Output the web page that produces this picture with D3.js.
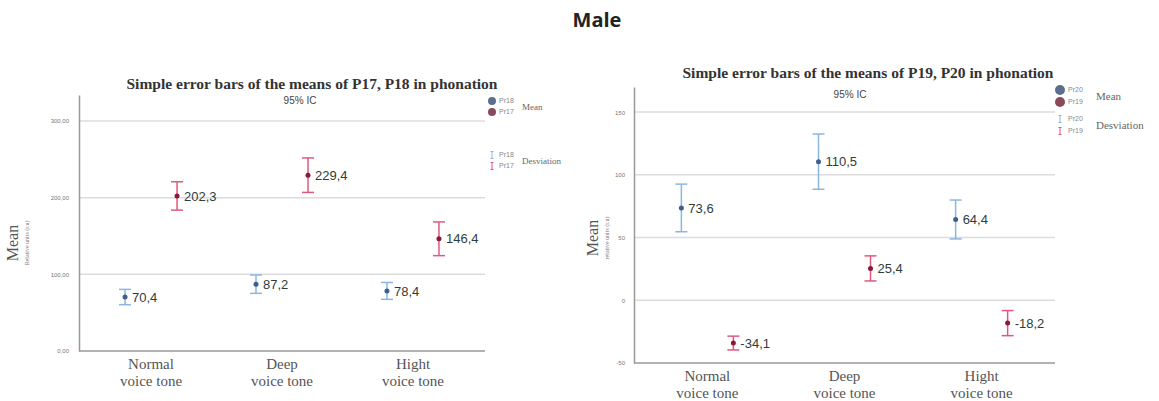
<!DOCTYPE html>
<html>
<head>
<meta charset="utf-8">
<script src="https://cdn.jsdelivr.net/npm/d3@7"></script>
<style>
  body { margin: 0; background: #fff; }
  svg { display: block; }
</style>
</head>
<body>
<div id="chart"></div>
<script>
// ---- data ----
const categories = ["Normal", "Deep", "Hight"];
const categorySub = "voice tone";

// left panel (P17, P18)
const p18Means = [70.4, 87.2, 78.4];
const p18Errors = [10, 12, 11];
const p17Means = [202.3, 229.4, 146.4];
const p17Errors = [18.5, 22.5, 22];
const leftTicks = [0, 100, 200, 300];

// right panel (P19, P20)
const p20Means = [73.6, 110.5, 64.4];
const p20Errors = [19, 22, 15.5];
const p19Means = [-34.1, 25.4, -18.2];
const p19Errors = [5.5, 10, 10];
const rightTicks = [-50, 0, 50, 100, 150];

const blueBar = "#8ab6e3";
const blueDot = "#3d5f8f";
const redBar = "#e2587c";
const redDot = "#8c1739";
const legendBlue = "#5b6f8c";
const legendRed = "#8a4a5c";

const width = 1159;
const height = 401;

const svg = d3.select("#chart")
  .append("svg")
    .attr("width", width)
    .attr("height", height);

svg.append("text")
  .text("Male")
  .attr("x", 597)
  .attr("y", 27)
  .attr("text-anchor", "middle")
  .attr("font-family", "'Open Sans', sans-serif")
  .attr("font-weight", "bold")
  .attr("font-size", 20)
  .attr("fill", "#222");

const comma = (v, digits) => v.toFixed(digits).replace(".", ",");

const drawPanel = (p) => {
  const xScale = d3.scalePoint()
    .domain(categories)
    .range([p.x0, p.x1])
    .padding(p.pad);
  const yScale = d3.scaleLinear()
    .domain(p.domain)
    .range([p.yBottom, p.yTop]);
  const offset = d3.scalePoint()
    .domain([0, 1])
    .range([-26, 26]);

  // gridlines
  svg.append("g")
    .selectAll("line")
    .data(p.ticks.filter(t => t !== p.domain[0]))
    .join("line")
      .attr("x1", p.x0)
      .attr("x2", p.x1)
      .attr("y1", d => yScale(d))
      .attr("y2", d => yScale(d))
      .attr("stroke", "#dcdcdc")
      .attr("stroke-width", 1.5);

  // left axis
  const leftAxis = d3.axisLeft(yScale)
    .tickValues(p.ticks)
    .tickSize(0)
    .tickPadding(p.tickPad)
    .tickFormat(p.tickFormat);
  const gy = svg.append("g")
    .attr("transform", `translate(${p.x0}, 0)`)
    .call(leftAxis);
  gy.select(".domain").attr("stroke", "#999").attr("stroke-width", 1.5);
  gy.selectAll("text")
    .attr("font-family", "'Liberation Sans', sans-serif")
    .attr("font-size", 6)
    .attr("fill", "#777");

  // bottom axis line
  svg.append("line")
    .attr("x1", p.x0)
    .attr("x2", p.x1)
    .attr("y1", p.yBottom)
    .attr("y2", p.yBottom)
    .attr("stroke", "#999")
    .attr("stroke-width", 1.5);

  // category labels
  const catG = svg.append("g")
    .selectAll("text")
    .data(categories)
    .join("text")
      .attr("x", d => xScale(d))
      .attr("y", p.catY)
      .attr("text-anchor", "middle")
      .attr("font-family", "'Liberation Serif', serif")
      .attr("font-size", 15)
      .attr("fill", "#555");
  catG.append("tspan").text(d => d);
  catG.append("tspan")
    .attr("x", d => xScale(d))
    .attr("dy", 17)
    .text(categorySub);

  // titles
  svg.append("text")
    .text(p.title)
    .attr("x", p.titleX)
    .attr("y", p.titleY)
    .attr("text-anchor", "middle")
    .attr("font-family", "'Liberation Serif', serif")
    .attr("font-weight", "bold")
    .attr("font-size", 15.5)
    .attr("fill", "#333");
  svg.append("text")
    .text("95% IC")
    .attr("x", p.icX)
    .attr("y", p.icY)
    .attr("text-anchor", "middle")
    .attr("font-family", "'Liberation Sans', sans-serif")
    .attr("font-size", 10)
    .attr("fill", "#444");

  // y label
  svg.append("text")
    .text("Mean")
    .attr("transform", `translate(${p.yLabelX}, ${p.yLabelY}) rotate(-90)`)
    .attr("text-anchor", "middle")
    .attr("font-family", "'Liberation Serif', serif")
    .attr("font-size", 16)
    .attr("fill", "#555");
  svg.append("text")
    .text(p.unitLabel)
    .attr("transform", `translate(${p.yLabelX + 11}, ${p.yLabelY}) rotate(-90)`)
    .attr("text-anchor", "middle")
    .attr("font-family", "'Liberation Serif', serif")
    .attr("font-size", 6)
    .attr("fill", "#777");

  // error bars and means
  p.series.forEach((s, si) => {
    const rows = categories.map((c, i) => ({cat: c, mean: s.means[i], err: s.errors[i]}));
    const g = svg.append("g")
      .selectAll("g")
      .data(rows)
      .join("g")
        .attr("transform", d => `translate(${xScale(d.cat) + offset(si)}, 0)`);
    g.append("line")
      .attr("y1", d => yScale(d.mean + d.err))
      .attr("y2", d => yScale(d.mean - d.err))
      .attr("stroke", s.bar)
      .attr("stroke-width", 1.5);
    [1, -1].forEach(sign => {
      g.append("line")
        .attr("x1", -6)
        .attr("x2", 6)
        .attr("y1", d => yScale(d.mean + sign * d.err))
        .attr("y2", d => yScale(d.mean + sign * d.err))
        .attr("stroke", s.bar)
        .attr("stroke-width", 1.5);
    });
    g.append("circle")
      .attr("cy", d => yScale(d.mean))
      .attr("r", 2.5)
      .attr("fill", s.dot);
    g.append("text")
      .text(d => comma(d.mean, 1))
      .attr("x", 7)
      .attr("y", d => yScale(d.mean))
      .attr("dy", "0.36em")
      .attr("font-family", "'Liberation Sans', sans-serif")
      .attr("font-size", 13)
      .attr("fill", "#2f3d3a");
  });

  // legend
  const lg = svg.append("g").attr("transform", `translate(${p.legX}, 0)`);
  p.series.forEach((s, i) => {
    lg.append("circle")
      .attr("cx", 0)
      .attr("cy", p.legMeanY + i * p.legGap)
      .attr("r", p.legR)
      .attr("fill", s.legend);
    lg.append("text")
      .text(s.name)
      .attr("x", p.legR + 3)
      .attr("y", p.legMeanY + i * p.legGap)
      .attr("dy", "0.35em")
      .attr("font-family", "'Liberation Sans', sans-serif")
      .attr("font-size", 7)
      .attr("fill", "#888");
    const cy = p.legDevY + i * p.legGap;
    lg.append("line")
      .attr("y1", cy - 3.5).attr("y2", cy + 3.5)
      .attr("stroke", s.bar).attr("stroke-width", 1);
    [-3.5, 3.5].forEach(dy => {
      lg.append("line")
        .attr("x1", -1.5).attr("x2", 1.5)
        .attr("y1", cy + dy).attr("y2", cy + dy)
        .attr("stroke", s.bar).attr("stroke-width", 1);
    });
    lg.append("text")
      .text(s.name)
      .attr("x", p.legR + 3)
      .attr("y", cy)
      .attr("dy", "0.35em")
      .attr("font-family", "'Liberation Sans', sans-serif")
      .attr("font-size", 7)
      .attr("fill", "#888");
  });
  lg.append("text")
    .text("Mean")
    .attr("x", p.legTextX)
    .attr("y", p.legMeanY + p.legGap / 2)
    .attr("dy", "0.35em")
    .attr("font-family", "'Liberation Serif', serif")
    .attr("font-size", p.legFont)
    .attr("fill", "#666");
  lg.append("text")
    .text("Desviation")
    .attr("x", p.legTextX)
    .attr("y", p.legDevY + p.legGap / 2)
    .attr("dy", "0.35em")
    .attr("font-family", "'Liberation Serif', serif")
    .attr("font-size", p.legFont)
    .attr("fill", "#666");
};

drawPanel({
  x0: 79, x1: 485, pad: 0.55,
  domain: [0, 334], yBottom: 351, yTop: 95,
  ticks: leftTicks, tickPad: 10, tickFormat: d => comma(d, 2),
  catY: 369,
  title: "Simple error bars of the means of P17, P18 in phonation",
  titleX: 312, titleY: 89, icX: 300, icY: 104,
  yLabelX: 18, yLabelY: 243, unitLabel: "Relative units (r.u)",
  legX: 492, legMeanY: 101, legDevY: 155, legGap: 11, legR: 4,
  legTextX: 30, legFont: 9,
  series: [
    {name: "Pr18", means: p18Means, errors: p18Errors, bar: blueBar, dot: blueDot, legend: legendBlue},
    {name: "Pr17", means: p17Means, errors: p17Errors, bar: redBar, dot: redDot, legend: legendRed}
  ]
});

drawPanel({
  x0: 634, x1: 1055, pad: 0.535,
  domain: [-50, 170], yBottom: 363, yTop: 87,
  ticks: rightTicks, tickPad: 9, tickFormat: d => d,
  catY: 381,
  title: "Simple error bars of the means of P19, P20 in phonation",
  titleX: 868, titleY: 78, icX: 850, icY: 98,
  yLabelX: 598, yLabelY: 238, unitLabel: "relative units (r.u)",
  legX: 1060, legMeanY: 90, legDevY: 119, legGap: 12, legR: 5,
  legTextX: 36, legFont: 11,
  series: [
    {name: "Pr20", means: p20Means, errors: p20Errors, bar: blueBar, dot: blueDot, legend: legendBlue},
    {name: "Pr19", means: p19Means, errors: p19Errors, bar: redBar, dot: redDot, legend: legendRed}
  ]
});
</script>
</body>
</html>
